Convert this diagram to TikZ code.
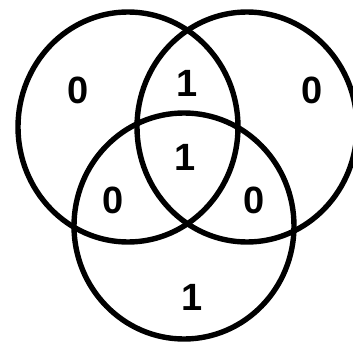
\documentclass[tikz,border=0pt]{standalone}
\usepackage{fontspec}
\setmainfont{Liberation Sans}
\begin{document}
\begin{tikzpicture}[x=1pt,y=-1pt,
  ring/.style={draw=black,line width=5.4pt},
  lbl/.style={font=\fontsize{38}{40}\selectfont\bfseries,inner sep=0pt}]
\useasboundingbox[fill=white] (0,0) rectangle (353,345);
\draw[ring] (128,127) ellipse [x radius=110, y radius=115];
\draw[ring] (247,127) ellipse [x radius=110, y radius=115];
\draw[ring] (184,226) ellipse [x radius=110, y radius=113];
\node[lbl] (a) at (78,90) {0};
\node[lbl] (b) at (187,83) {1};
\node[lbl] (c) at (312,90) {0};
\node[lbl] (d) at (185,157) {1};
\node[lbl] (e) at (113,200) {0};
\node[lbl] (f) at (254,200) {0};
\node[lbl] (g) at (192,297) {1};
\end{tikzpicture}
\end{document}
